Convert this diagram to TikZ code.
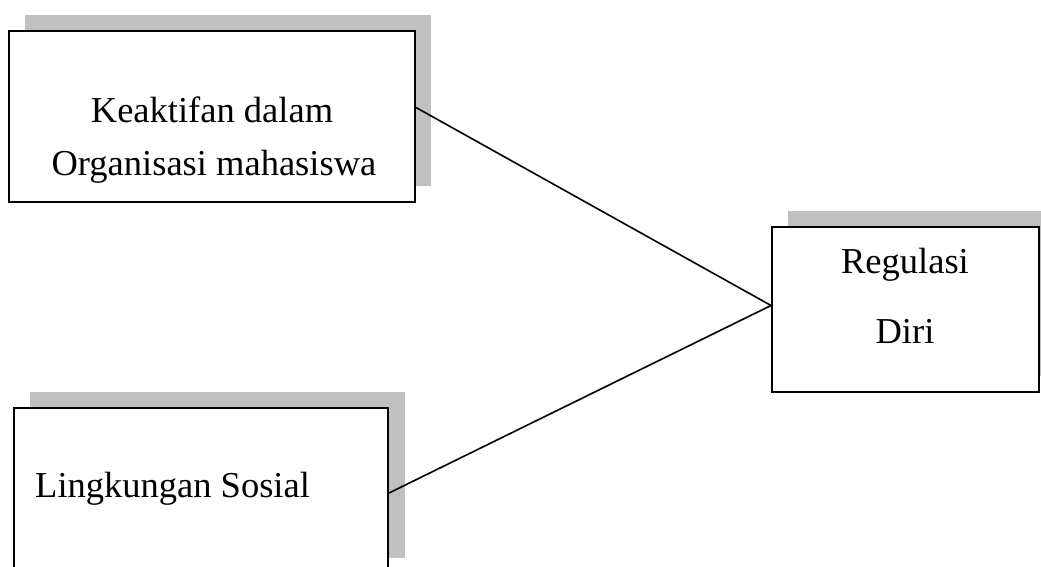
\documentclass[tikz,border=0pt]{standalone}
\usepackage{fontspec}
\setmainfont{Liberation Serif}
\definecolor{shadowgray}{RGB}{192,192,192}
\begin{document}
\begin{tikzpicture}[x=1pt,y=-1pt,
  boxshape/.style={draw=black,line width=2pt,fill=white,inner sep=0pt,rectangle},
  shade/.style={fill=shadowgray},
  lbl/.style={inner sep=0pt,anchor=base,font=\fontsize{36.5}{40}\selectfont},
  link/.style={draw=black,line width=1.6pt}]
\useasboundingbox (0,0) rectangle (1041,566);
% shadows
\fill[shade] (25,15) rectangle (431,186);
\fill[shade] (788,211) rectangle (1055,376);
\fill[shade] (30,392) rectangle (405,558);
% boxes
\node[boxshape,minimum width=406pt,minimum height=171pt] (k) at (212,116.5) {};
\node[boxshape,minimum width=267pt,minimum height=165pt] (r) at (905.5,309.5) {};
\node[boxshape,minimum width=374pt,minimum height=166pt] (l) at (201,491) {};
% texts
\node[lbl] (k1) at (212,122) {Keaktifan dalam};
\node[lbl] (k2) at (214,175) {Organisasi mahasiswa};
\node[lbl] (r1) at (905,273) {Regulasi};
\node[lbl] (r2) at (905,343) {Diri};
\node[lbl,anchor=base west] (l1) at (35,497) {Lingkungan Sosial};
% connectors
\draw[link] ([yshift=9pt]k.east) -- ([yshift=4pt]r.west);
\draw[link] ([yshift=-2pt]l.east) -- ([yshift=4pt]r.west);
\end{tikzpicture}
\end{document}
